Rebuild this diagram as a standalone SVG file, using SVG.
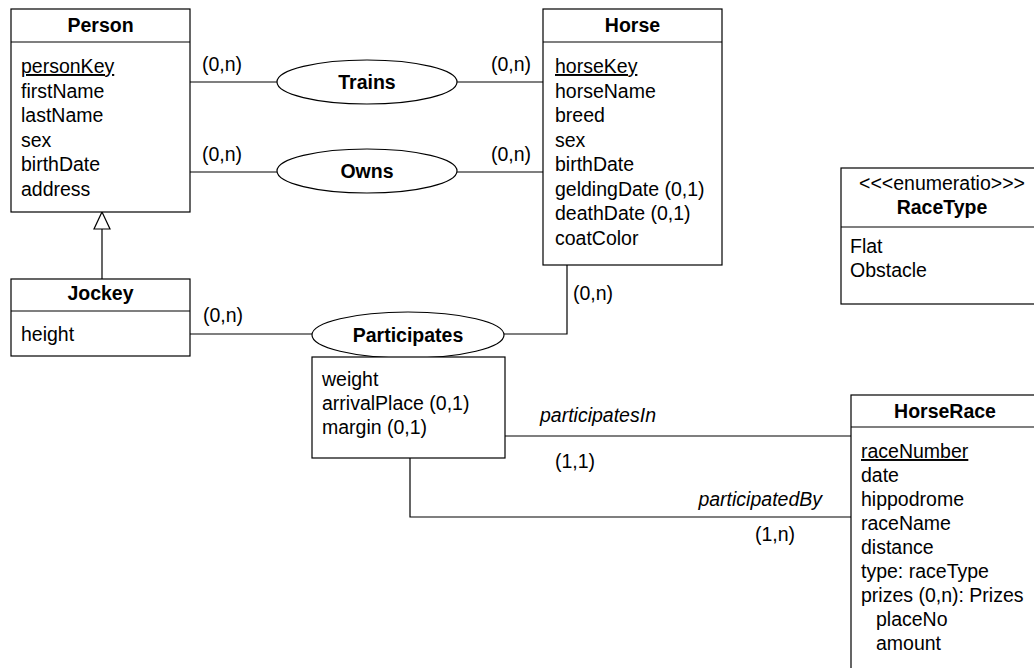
<svg xmlns="http://www.w3.org/2000/svg" width="1034" height="668" viewBox="0 0 1034 668">
  <style>
    .box { fill: #fff; stroke: #000; stroke-width: 1.2; }
    .rel { fill: #fff; stroke: #000; stroke-width: 1.2; }
    .ln { fill: none; stroke: #000; stroke-width: 1.2; }
    text { font-family: "Liberation Sans", Arial, sans-serif; font-size: 19.5px; fill: #000; }
    .title { font-weight: bold; text-anchor: middle; }
    .role { font-style: italic; }
    .key { text-decoration: underline; }
  </style>
  <defs>
    <marker id="gen" viewBox="0 0 16 16" refX="8" refY="0" markerWidth="16" markerHeight="16" markerUnits="userSpaceOnUse" orient="auto-start-reverse">
      <path d="M8 0 L16 16 L0 16 Z" fill="#fff" stroke="#000" stroke-width="1.2"/>
    </marker>
  </defs>

  <!-- connectors -->
  <g id="connectors">
    <line class="ln" x1="190" y1="82" x2="277" y2="82"/>
    <line class="ln" x1="457" y1="82" x2="543" y2="82"/>
    <line class="ln" x1="190" y1="172" x2="277" y2="172"/>
    <line class="ln" x1="457" y1="172" x2="543" y2="172"/>
    <line class="ln" x1="190" y1="334" x2="312" y2="334"/>
    <polyline class="ln" points="504,334 567,334 567,265"/>
    <line class="ln" x1="505" y1="436" x2="851" y2="436"/>
    <polyline class="ln" points="410,458 410,517 851,517"/>
    <!-- generalization Jockey -> Person -->
    <line class="ln" x1="102" y1="279" x2="102" y2="229"/>
    <path d="M102 212 L110 229 L94 229 Z" fill="#fff" stroke="#000" stroke-width="1.2"/>
    <text x="202" y="71">(0,n)</text>
    <text x="491" y="71">(0,n)</text>
    <text x="202" y="161">(0,n)</text>
    <text x="491" y="161">(0,n)</text>
    <text x="203" y="322">(0,n)</text>
    <text x="573" y="300">(0,n)</text>
    <text class="role" x="540" y="422">participatesIn</text>
    <text x="555" y="468">(1,1)</text>
    <text class="role" x="822" y="506" text-anchor="end">participatedBy</text>
    <text x="755" y="541">(1,n)</text>
  </g>

  <g id="person">
    <rect class="box" x="11" y="9" width="179" height="203"/>
    <line class="ln" x1="11" y1="42" x2="190" y2="42"/>
    <text class="title" x="100.5" y="32">Person</text>
    <text class="key" x="21" y="73">personKey</text>
    <text x="21" y="97.5">firstName</text>
    <text x="21" y="122">lastName</text>
    <text x="21" y="146.5">sex</text>
    <text x="21" y="171">birthDate</text>
    <text x="21" y="195.5">address</text>
  </g>

  <g id="horse">
    <rect class="box" x="543" y="9" width="179" height="256"/>
    <line class="ln" x1="543" y1="42" x2="722" y2="42"/>
    <text class="title" x="632.5" y="32">Horse</text>
    <text class="key" x="555" y="73">horseKey</text>
    <text x="555" y="97.5">horseName</text>
    <text x="555" y="122">breed</text>
    <text x="555" y="146.5">sex</text>
    <text x="555" y="171">birthDate</text>
    <text x="555" y="195.5">geldingDate (0,1)</text>
    <text x="555" y="220">deathDate (0,1)</text>
    <text x="555" y="244.5">coatColor</text>
  </g>

  <g id="trains">
    <ellipse class="rel" cx="367" cy="82" rx="90" ry="22"/>
    <text class="title" x="367" y="89">Trains</text>
  </g>

  <g id="owns">
    <ellipse class="rel" cx="367" cy="171" rx="90" ry="22"/>
    <text class="title" x="367" y="178">Owns</text>
  </g>

  <g id="jockey">
    <rect class="box" x="11" y="279" width="179" height="77"/>
    <line class="ln" x1="11" y1="311" x2="190" y2="311"/>
    <text class="title" x="100.5" y="300">Jockey</text>
    <text x="21" y="341">height</text>
  </g>

  <g id="participates">
    <ellipse class="rel" cx="408" cy="335" rx="96" ry="23"/>
    <text class="title" x="408" y="342">Participates</text>
  </g>

  <g id="participates-attributes">
    <rect class="box" x="312" y="357" width="193" height="101"/>
    <text x="322" y="386">weight</text>
    <text x="322" y="410">arrivalPlace (0,1)</text>
    <text x="322" y="434">margin (0,1)</text>
  </g>

  <g id="racetype">
    <rect class="box" x="841" y="168" width="210" height="136"/>
    <line class="ln" x1="841" y1="227" x2="1051" y2="227"/>
    <text x="942" y="190" text-anchor="middle">&lt;&lt;&lt;enumeratio&gt;&gt;&gt;</text>
    <text class="title" x="942" y="214">RaceType</text>
    <text x="850" y="253">Flat</text>
    <text x="850" y="277">Obstacle</text>
  </g>

  <g id="horserace">
    <rect class="box" x="851" y="395" width="190" height="290"/>
    <line class="ln" x1="851" y1="427" x2="1041" y2="427"/>
    <text class="title" x="945" y="418">HorseRace</text>
    <text class="key" x="861" y="458">raceNumber</text>
    <text x="861" y="482">date</text>
    <text x="861" y="506">hippodrome</text>
    <text x="861" y="530">raceName</text>
    <text x="861" y="554">distance</text>
    <text x="861" y="578">type: raceType</text>
    <text x="861" y="602">prizes (0,n): Prizes</text>
    <text x="876" y="626">placeNo</text>
    <text x="876" y="650">amount</text>
  </g>
</svg>
